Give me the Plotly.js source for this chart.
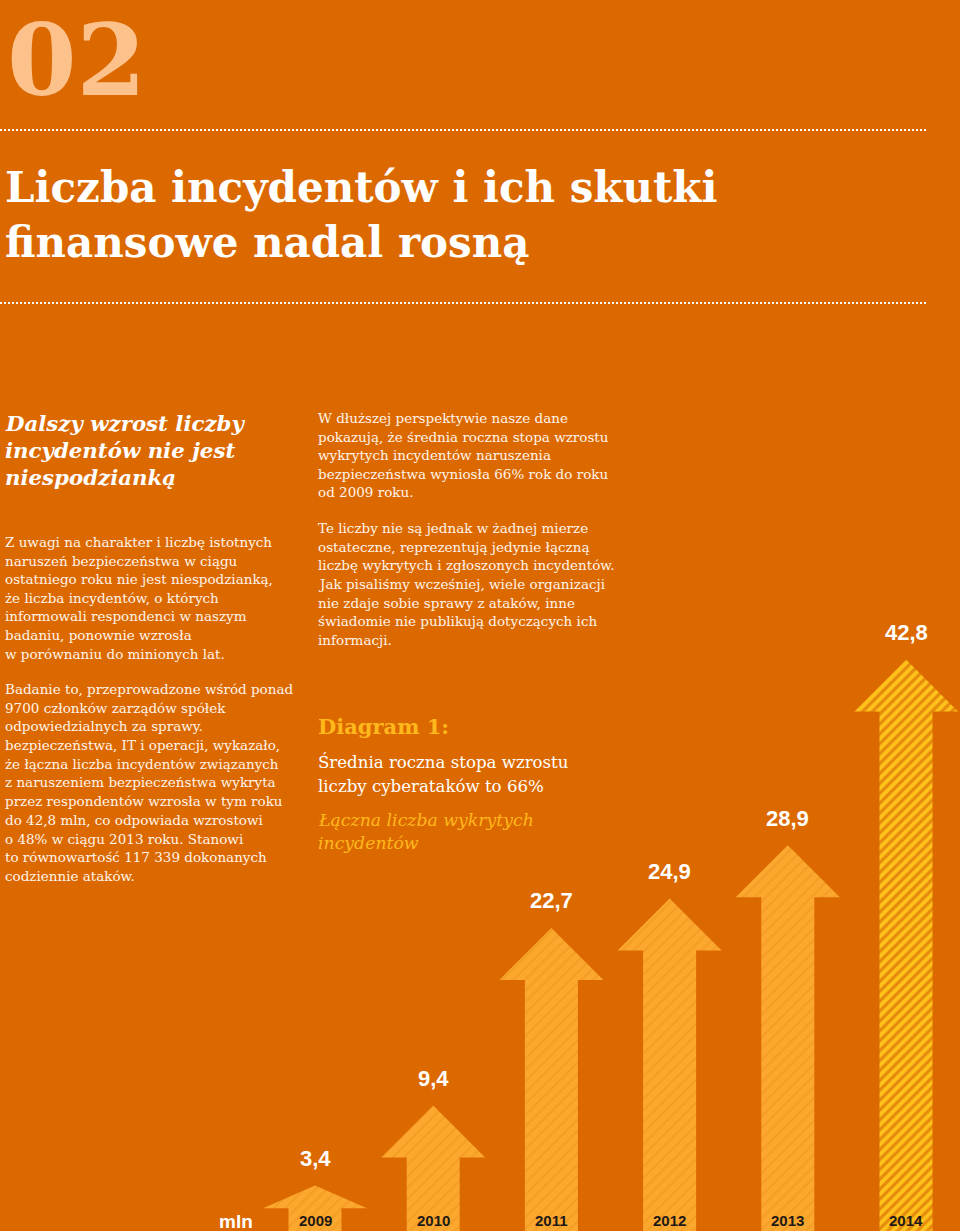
<!DOCTYPE html>
<html>
<head>
<meta charset="utf-8">
<script src="https://cdn.plot.ly/plotly-3.0.1.min.js"></script>
<style>html,body{margin:0;padding:0;background:#DC6900;}#chart{width:960px;height:1231px;}</style>
</head>
<body>
<div id="chart"></div>
<script>
// ---- data ----
var years = ['2009', '2010', '2011', '2012', '2013', '2014'];
var values = [3.4, 9.4, 22.7, 24.9, 28.9, 42.8];
var valueLabels = ['3,4', '9,4', '22,7', '24,9', '28,9', '42,8'];
var unitLabel = 'mln';

var sectionNumber = '02';
var titleLines = ['Liczba incydentów i ich skutki', 'finansowe nadal rosną'];
var subheadLines = ['Dalszy wzrost liczby', 'incydentów nie jest', 'niespodzianką'];
var leftPara1 = [
  'Z uwagi na charakter i liczbę istotnych',
  'naruszeń bezpieczeństwa w ciągu',
  'ostatniego roku nie jest niespodzianką,',
  'że liczba incydentów, o których',
  'informowali respondenci w naszym',
  'badaniu, ponownie wzrosła',
  'w porównaniu do minionych lat.'
];
var leftPara2 = [
  'Badanie to, przeprowadzone wśród ponad',
  '9700 członków zarządów spółek',
  'odpowiedzialnych za sprawy.',
  'bezpieczeństwa, IT i operacji, wykazało,',
  'że łączna liczba incydentów związanych',
  'z naruszeniem bezpieczeństwa wykryta',
  'przez respondentów wzrosła w tym roku',
  'do 42,8 mln, co odpowiada wzrostowi',
  'o 48% w ciągu 2013 roku. Stanowi',
  'to równowartość 117 339 dokonanych',
  'codziennie ataków.'
];
var rightPara1 = [
  'W dłuższej perspektywie nasze dane',
  'pokazują, że średnia roczna stopa wzrostu',
  'wykrytych incydentów naruszenia',
  'bezpieczeństwa wyniosła 66% rok do roku',
  'od 2009 roku.'
];
var rightPara2 = [
  'Te liczby nie są jednak w żadnej mierze',
  'ostateczne, reprezentują jedynie łączną',
  'liczbę wykrytych i zgłoszonych incydentów.',
  'Jak pisaliśmy wcześniej, wiele organizacji',
  'nie zdaje sobie sprawy z ataków, inne',
  'świadomie nie publikują dotyczących ich',
  'informacji.'
];
var diagramLabel = 'Diagram 1:';
var diagramTitle = ['Średnia roczna stopa wzrostu', 'liczby cyberataków to 66%'];
var diagramSub = ['Łączna liczba wykrytych', 'incydentów'];

// ---- geometry / styles ----
var W = 960, H = 1231;
var BG = '#DC6900';
var pxPerCat = 118.2, firstCatPx = 315;
var xr0 = -firstCatPx / pxPerCat, xr1 = xr0 + W / pxPerCat;
var pxPerVal = 13.35;
var yr1 = H / pxPerVal;
var headHalf = 52 / pxPerCat, shaftHalf = 26.5 / pxPerCat, headH = 52 / pxPerVal;

function py(p) { return 1 - p / H; }
function px(p) { return p / W; }

var traces = [];
values.forEach(function (v, i) {
  var hh = Math.min(headH, v * 0.5);
  var last = (i === values.length - 1);
  traces.push({
    type: 'scatter', mode: 'lines', hoverinfo: 'skip',
    x: [i - shaftHalf, i - shaftHalf, i - headHalf, i, i + headHalf, i + shaftHalf, i + shaftHalf, i - shaftHalf],
    y: [0, v - hh, v - hh, v, v - hh, v - hh, 0, 0],
    fill: 'toself', line: {width: 0, color: 'rgba(0,0,0,0)'},
    fillcolor: last ? '#FFC21A' : '#FCA72E',
    fillpattern: last
      ? {shape: '/', bgcolor: '#FFC21A', fgcolor: '#E58A0C', size: 7, solidity: 0.45}
      : {shape: '/', bgcolor: '#FCA72E', fgcolor: '#F59D24', size: 8, solidity: 0.25}
  });
});

var ann = [];
values.forEach(function (v, i) {
  ann.push({x: i, y: v, xref: 'x', yref: 'y', text: '<b>' + valueLabels[i] + '</b>', showarrow: false,
    yanchor: 'middle', yshift: 27, font: {family: 'Liberation Sans, Arial', size: 22, color: '#FFFFFF'}});
  ann.push({x: i, y: 0, xref: 'x', yref: 'y', text: '<b>' + years[i] + '</b>', showarrow: false,
    yanchor: 'bottom', yshift: 0, font: {family: 'Liberation Sans, Arial', size: 15, color: '#1E1A16'}});
});
ann.push({x: px(236), y: py(1221), xref: 'paper', yref: 'paper', text: '<b>' + unitLabel + '</b>', showarrow: false,
  xanchor: 'center', yanchor: 'middle', font: {family: 'Liberation Sans, Arial', size: 19, color: '#FFFFFF'}});

function addLines(lines, x0, y0, dy, font) {
  lines.forEach(function (t, k) {
    ann.push({x: px(x0), y: py(y0 + k * dy), xref: 'paper', yref: 'paper', text: t, showarrow: false,
      xanchor: 'left', yanchor: 'middle', font: font});
  });
}
var serif = 'DejaVu Serif';
ann.push({x: px(6), y: 1, xref: 'paper', yref: 'paper', text: '<b>' + sectionNumber + '</b>', showarrow: false,
  xanchor: 'left', yanchor: 'top', borderpad: 0, font: {family: serif, size: 100, color: '#FDC28C'}});
addLines(titleLines.map(function (s) { return '<b>' + s + '</b>'; }), 3, 188, 55, {family: serif, size: 42, color: '#FFFFFF'});
addLines(subheadLines.map(function (s) { return '<b><i>' + s + '</i></b>'; }), 3, 423, 27.5, {family: serif, size: 21.3, color: '#FFFFFF'});
var body = {family: serif, size: 13.5, color: '#FFF4EA'};
addLines(leftPara1, 3, 542, 18.6, body);
addLines(leftPara2, 3, 689, 18.7, body);
addLines(rightPara1, 316, 418, 18.6, body);
addLines(rightPara2, 316, 528, 18.7, body);
addLines(['<b>' + diagramLabel + '</b>'], 316, 727, 0, {family: serif, size: 21, color: '#FFB81C'});
addLines(diagramTitle, 316, 762, 24, {family: serif, size: 16.6, color: '#FFFFFF'});
addLines(diagramSub.map(function (s) { return '<i>' + s + '</i>'; }), 316, 820, 23, {family: serif, size: 17.3, color: '#FFB81C'});

var shapes = [130, 303].map(function (yy) {
  return {type: 'line', xref: 'paper', yref: 'paper', x0: 0, x1: px(928), y0: py(yy), y1: py(yy),
    line: {color: '#FFFFFF', width: 2, dash: '2px,2px'}};
});

var layout = {
  width: W, height: H, margin: {l: 0, r: 0, t: 0, b: 0},
  paper_bgcolor: BG, plot_bgcolor: BG, showlegend: false,
  xaxis: {range: [xr0, xr1], visible: false, fixedrange: true},
  yaxis: {range: [0, yr1], visible: false, fixedrange: true},
  annotations: ann, shapes: shapes
};
Plotly.newPlot('chart', traces, layout, {displayModeBar: false, staticPlot: true});
</script>
</body>
</html>
